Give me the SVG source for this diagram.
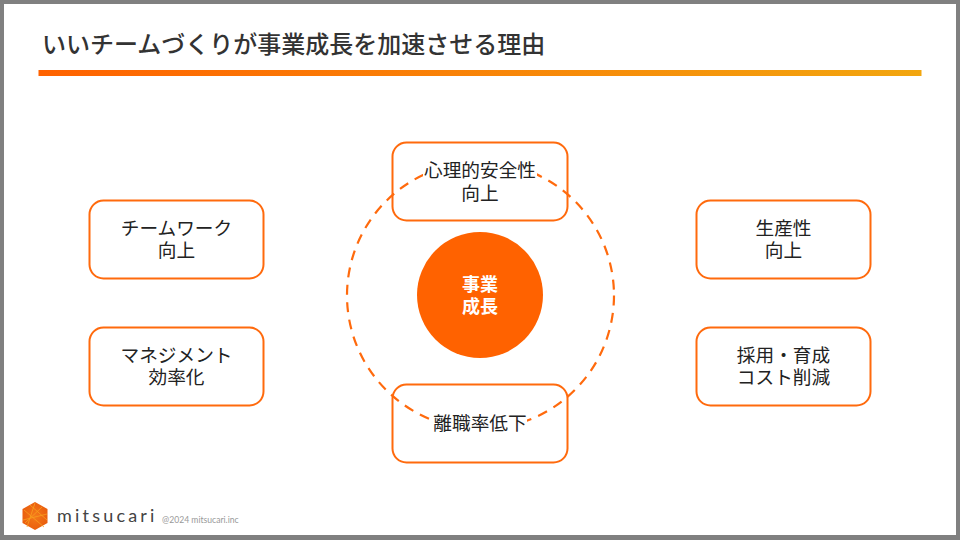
<svg xmlns="http://www.w3.org/2000/svg" width="960" height="540" viewBox="0 0 960 540">
<style>
text{font-family:"Noto Sans CJK JP","Noto Sans",sans-serif;text-anchor:middle}
.box{fill:#fff;stroke:#ff6a0d;stroke-width:2}
.lbl{font-size:18.670px;fill:#222}
.mask{fill:#fff}
</style>
<defs>
<linearGradient id="bar" x1="0" x2="1" y1="0" y2="0"><stop offset="0" stop-color="#ff6200"/><stop offset="1" stop-color="#f2a60f"/></linearGradient>
<radialGradient id="hex" cx="0.5" cy="0.5" r="0.6"><stop offset="0" stop-color="#f47a1a"/><stop offset="1" stop-color="#e85a0c"/></radialGradient>
</defs>
<rect width="960" height="540" fill="#808080"/>
<rect x="4" y="4" width="952" height="531" fill="#fff"/>
<text x="42" y="52.500" font-size="24" font-weight="500" fill="#333" style="text-anchor:start">いいチームづくりが事業成長を加速させる理由</text>
<rect x="38.500" y="70" width="883" height="6" fill="url(#bar)"/>

<g id="node-top"><rect class="box" x="392.500" y="142.500" width="175" height="78" rx="14"/></g>
<g id="node-bottom"><rect class="box" x="392.500" y="384.500" width="175" height="78" rx="14"/></g>
<g id="connectors"><circle cx="480.500" cy="295.500" r="133.500" fill="none" stroke="#ff6a0d" stroke-width="2.200" stroke-dasharray="10 7.500"/></g>
<g id="node-top-label"><rect class="mask" x="423" y="159" width="114" height="46"/>
<text class="lbl" x="480" y="176.500">心理的安全性</text><text class="lbl" x="480" y="199.500">向上</text></g>
<g id="node-bottom-label"><rect class="mask" x="433" y="412" width="94" height="24"/>
<text class="lbl" x="480" y="430">離職率低下</text></g>
<g id="node-center"><circle cx="480" cy="295" r="63" fill="#ff6200"/>
<text x="480" y="290.500" font-size="18" font-weight="700" fill="#fff">事業</text><text x="480" y="312.500" font-size="18" font-weight="700" fill="#fff">成長</text></g>
<g id="node-teamwork"><rect class="box" x="89.500" y="200.500" width="174" height="78" rx="14"/>
<text class="lbl" x="176.500" y="235">チームワーク</text><text class="lbl" x="176.500" y="257">向上</text></g>
<g id="node-mgmt"><rect class="box" x="89.500" y="327.500" width="174" height="78" rx="14"/>
<text class="lbl" x="176.500" y="362">マネジメント</text><text class="lbl" x="176.500" y="384">効率化</text></g>
<g id="node-prod"><rect class="box" x="696.500" y="200.500" width="174" height="78" rx="14"/>
<text class="lbl" x="783.500" y="235">生産性</text><text class="lbl" x="783.500" y="257">向上</text></g>
<g id="node-cost"><rect class="box" x="696.500" y="327.500" width="174" height="78" rx="14"/>
<text class="lbl" x="783.500" y="362">採用・育成</text><text class="lbl" x="783.500" y="384">コスト削減</text></g>

<g id="logo">
<polygon points="35,502 47.500,509 47.500,523 35,530 22.500,523 22.500,509" fill="url(#hex)"/>
<path d="M24 510L44 527M35 503L27 527M47 514L23 520M30 505L47 520M25 523L42 507" fill="none" stroke="#f9a01e" stroke-width="0.800"/>
<text x="57" y="522" font-size="18" fill="#444" letter-spacing="3.200" style="font-family:'Lato',sans-serif;text-anchor:start">mitsucari</text>
<text x="162" y="523" font-size="8.600" fill="#999" style="font-family:'Lato',sans-serif;text-anchor:start">@2024 mitsucari.inc</text>
</g>
</svg>
